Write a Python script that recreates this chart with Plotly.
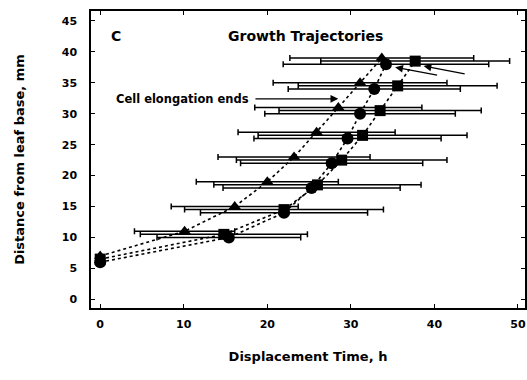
import plotly.graph_objects as go

# Data
tri_x = [0, 10.1, 16.1, 20.0, 23.2, 25.9, 28.5, 31.1, 33.7]
tri_y = [7, 11, 15, 19, 23, 27, 31, 35, 39]
tri_err = [0, 6.0, 7.6, 8.5, 9.1, 9.4, 10.0, 10.4, 11.0]

cir_x = [0, 15.4, 22.0, 25.3, 27.7, 29.6, 31.1, 32.8, 34.2]
cir_y = [6, 10, 14, 18, 22, 26, 30, 34, 38]
cir_err = [0, 8.6, 10.0, 10.6, 10.9, 11.2, 11.4, 10.3, 12.3]

sq_x = [0, 14.8, 22.0, 26.0, 28.9, 31.4, 33.5, 35.6, 37.7]
sq_y = [6.5, 10.5, 14.5, 18.5, 22.5, 26.5, 30.5, 34.5, 38.5]
sq_err = [0, 10.0, 11.9, 12.4, 12.6, 12.5, 12.1, 11.9, 11.3]

x_ticks = [0, 10, 20, 30, 40, 50]
y_ticks = [0, 5, 10, 15, 20, 25, 30, 35, 40, 45]

FONT = "DejaVu Sans, Liberation Sans, sans-serif"

fig = go.Figure()

def add_series(xs, ys, errs, symbol, size):
    fig.add_trace(go.Scatter(
        x=xs, y=ys, mode="lines+markers",
        line=dict(color="black", width=1.6, dash="dot"),
        marker=dict(symbol=symbol, size=size, color="black"),
        error_x=dict(type="data", array=errs, symmetric=True,
                     color="black", thickness=1.5, width=3),
        showlegend=False, cliponaxis=False,
    ))

add_series(sq_x, sq_y, sq_err, "square", 11)
add_series(cir_x, cir_y, cir_err, "circle", 12)
add_series(tri_x, tri_y, tri_err, "triangle-up", 11)

annotations = [
    dict(x=1.9, y=42.6, xref="x", yref="y", text="<b>C</b>", showarrow=False,
         font=dict(size=14, family=FONT, color="black"), xanchor="center"),
    dict(x=24.6, y=42.6, xref="x", yref="y", text="<b>Growth Trajectories</b>",
         showarrow=False, font=dict(size=14, family=FONT, color="black")),
    dict(x=18.1, y=32.4, xref="x", yref="y", text="<b>Cell elongation ends</b>",
         showarrow=False, xanchor="right",
         font=dict(size=11.5, family=FONT, color="black")),
    dict(x=28.5, y=32.4, ax=18.4, ay=32.4, xref="x", yref="y", axref="x", ayref="y",
         text="", showarrow=True, arrowhead=2, arrowsize=1.2, arrowwidth=1.3,
         arrowcolor="black"),
    dict(x=38.7, y=37.7, ax=43.8, ay=36.4, xref="x", yref="y", axref="x", ayref="y",
         text="", showarrow=True, arrowhead=2, arrowsize=1.2, arrowwidth=1.3,
         arrowcolor="black"),
    dict(x=35.3, y=37.5, ax=40.5, ay=36.2, xref="x", yref="y", axref="x", ayref="y",
         text="", showarrow=True, arrowhead=2, arrowsize=1.2, arrowwidth=1.3,
         arrowcolor="black"),
]

fig.update_layout(
    width=527, height=380,
    margin=dict(l=91, r=0, t=11, b=72),
    paper_bgcolor="white", plot_bgcolor="white",
    font=dict(family=FONT, color="black"),
    annotations=annotations,
    xaxis=dict(
        range=[-1.1, 50.84], tickvals=x_ticks, ticktext=[f"<b>{v}</b>" for v in x_ticks],
        ticks="inside", ticklen=4, tickwidth=1.2, tickcolor="black",
        showline=True, linecolor="black", linewidth=1.5, mirror="ticks",
        showgrid=False, zeroline=False, tickfont=dict(size=11, family=FONT),
        ticklabelstandoff=5,
        title=dict(text="<b>Displacement Time, h</b>", font=dict(size=13, family=FONT),
                   standoff=22),
    ),
    yaxis=dict(
        range=[-1.4, 46.6], tickvals=y_ticks, ticktext=[f"<b>{v}</b>" for v in y_ticks],
        ticks="inside", ticklen=4, tickwidth=1.2, tickcolor="black",
        showline=True, linecolor="black", linewidth=1.5, mirror="ticks",
        showgrid=False, zeroline=False, tickfont=dict(size=11, family=FONT),
        ticklabelstandoff=10,
        title=dict(text="<b>Distance from leaf base, mm</b>", font=dict(size=13, family=FONT),
                   standoff=34),
    ),
)

fig.write_html("out.html")
